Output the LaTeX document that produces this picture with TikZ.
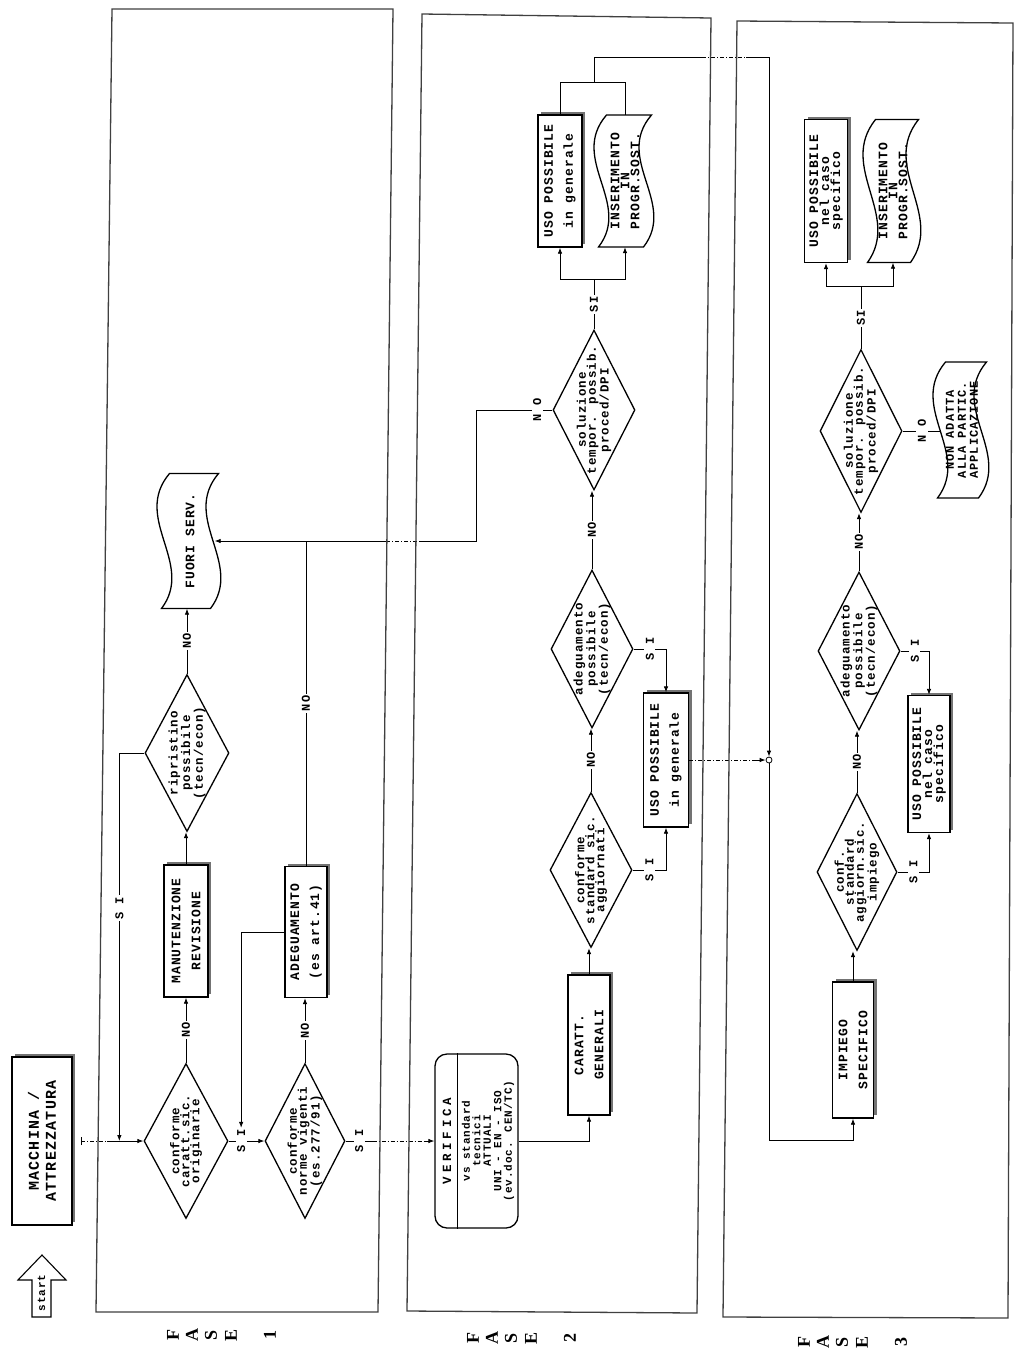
\documentclass[tikz,border=0pt]{standalone}
\usepackage{fontspec}
\newfontfamily\mono{Liberation Mono}[LetterSpace=8]
\newfontfamily\fasefont{Liberation Serif}
\usetikzlibrary{shapes.geometric,arrows.meta,shadows,calc}

\tikzset{
  conn/.style={line width=0.8pt},
  arr/.style={conn,-{Latex[length=6pt,width=4.5pt]}},
  gapd/.style={line width=0.8pt,dash pattern=on 4pt off 2pt on 1pt off 2pt},
  shp/.style={draw,line width=1.3pt,fill=white,inner sep=0pt},
  pbx/.style={shp,rectangle,general shadow={shadow xshift=3pt,shadow yshift=3pt,fill=black!55}},
  dia/.style={shp,diamond},
  btxt/.style={rotate=90,align=center,inner sep=0pt,font=\mono\bfseries\fontsize{13}{20}\selectfont},
  dtxt/.style={rotate=90,align=center,inner sep=0pt,font=\mono\bfseries\fontsize{12.5}{10}\selectfont},
  lbl/.style={rotate=90,fill=white,inner sep=1.5pt,font=\mono\bfseries\fontsize{12}{12}\selectfont},
  frm/.style={line width=1.3pt,draw=black!75},
  fase/.style={inner sep=0pt,font=\fasefont\bfseries\fontsize{18}{18}\selectfont},
}

% procedure box with shadow: name, cx, cy, w, h, text
\newcommand\procbox[6]{%
  \node[pbx,minimum width=#4,minimum height=#5] (#1) at (#2,#3) {};
  \node[btxt] (#1t) at (#1) {#6};}
% punched tape: name, cx, cy, total w, h, text
\newcommand\tapenode[6]{%
  \pgfmathsetmacro\tpa{(#4-13)/2}%
  \pgfmathsetmacro\tpT{#3-#5/2}\pgfmathsetmacro\tpB{#3+#5/2}%
  \pgfmathsetmacro\tpL{#2-\tpa-4}\pgfmathsetmacro\tpR{#2+\tpa-4}%
  \pgfmathsetmacro\tpA{\tpT+#5/3}\pgfmathsetmacro\tpC{\tpT+2*#5/3}%
  \draw[line width=1.3pt,fill=white] (\tpL+8,\tpT) -- (\tpR+8,\tpT)
     .. controls (\tpR-30,\tpA) and (\tpR+34,\tpC) .. (\tpR,\tpB) -- (\tpL,\tpB)
     .. controls (\tpL+34,\tpC) and (\tpL-30,\tpA) .. (\tpL+8,\tpT) -- cycle;
  \node[minimum width=2*\tpa,minimum height=#5,inner sep=0pt] (#1) at (#2,#3) {};
  \node[btxt] (#1t) at (#1) {#6};}
% rotated FASE letter: name, x, y, letter
\newcommand\faseletter[4]{\node[fase] (#1) at (#2,#3) {\rotatebox{90}{#4}};}

\begin{document}
\begin{tikzpicture}[x=1pt,y=-1pt]
\fill[white] (0,0) rectangle (1017,1350);
\useasboundingbox (0,0) rectangle (1017,1350);

% ---------- start arrow ----------
\draw[line width=1.1pt] (32,1317) -- (32,1280) -- (18,1280) -- (42,1255) -- (66,1280) -- (51,1280) -- (51,1317) -- cycle;
\node[rotate=90,inner sep=0pt,font=\mono\bfseries\fontsize{11}{11}\selectfont] (startt) at (41.5,1293) {start};

% ---------- FASE 1 ----------
\procbox{mac}{42}{1141}{60}{168}{}
\node[btxt,font=\mono\bfseries\fontsize{15}{17}\selectfont] (mact) at (mac) {MACCHINA /\\ATTREZZATURA};
\node[dia,minimum width=84,minimum height=155] (d1) at (186,1141) {};
\node[dtxt] (d1t) at (d1) {conforme\\caratt.sic.\\originarie};
\node[dia,minimum width=80,minimum height=155] (d2) at (305,1141) {};
\node[dtxt] (d2t) at (d2) {conforme\\norme vigenti\\(es.277/91)};
\procbox{man}{186}{931}{44}{132}{MANUTENZIONE\\REVISIONE}
\procbox{adg}{306}{932}{42}{131}{ADEGUAMENTO\\(es art.41)}
\node[dia,minimum width=84,minimum height=157] (d3) at (187,753) {};
\node[dtxt] (d3t) at (d3) {ripristino\\possibile\\(tecn/econ)};
\tapenode{fuori}{190}{541}{62}{135}{FUORI SERV.}

% ---------- FASE 2 ----------
\node[shp,rounded corners=12pt,minimum width=83,minimum height=174] (ver) at (476.5,1141) {};
\draw[line width=1.3pt] ([xshift=23pt]ver.north west) -- ([xshift=23pt]ver.south west);
\node[rotate=90,inner sep=0pt,font=\mono\bfseries\fontsize{12.5}{12}\selectfont\addfontfeature{LetterSpace=30}] (verh) at (447,1141) {VERIFICA};
\node[rotate=90,align=center,inner sep=0pt,font=\mono\bfseries\fontsize{11}{10.5}\selectfont] (verb) at (488,1141) {vs standard\\tecnici\\ATTUALI\\UNI - EN - ISO\\(ev.doc. CEN/TC)};
\procbox{car}{589}{1045}{42}{140}{CARATT.\\GENERALI}
\node[dia,minimum width=82,minimum height=155] (d4) at (591,870) {};
\node[dtxt] (d4t) at (d4) {conforme\\standard sic.\\aggiornati};
\procbox{uso1}{666}{760}{45}{134}{USO POSSIBILE\\in generale}
\node[dia,minimum width=82,minimum height=158] (d5) at (592,649) {};
\node[dtxt] (d5t) at (d5) {adeguamento\\possibile\\(tecn/econ)};
\node[dia,minimum width=82,minimum height=160] (d6) at (594,410) {};
\node[dtxt] (d6t) at (d6) {soluzione\\tempor. possib.\\proced/DPI};
\procbox{uso2}{560}{181}{44}{132}{USO POSSIBILE\\in generale}
\tapenode{ins1}{625}{181}{58}{132}{}
\node[btxt,font=\mono\bfseries\fontsize{13}{10}\selectfont] (ins1x) at (ins1) {INSERIMENTO\\IN\\PROGR.SOST.};

% ---------- FASE 3 ----------
\node[circle,draw,line width=0.8pt,fill=white,minimum size=6pt,inner sep=0pt] (jc) at (769,760) {};
\procbox{imp}{853}{1050}{41}{136}{IMPIEGO\\SPECIFICO}
\node[dia,minimum width=80,minimum height=157] (d7) at (857,872) {};
\node[dtxt] (d7t) at (d7) {conf.\\standard\\aggiorn.sic.\\impiego};
\procbox{uso3}{929}{764}{42}{137}{}
\node[btxt,font=\mono\bfseries\fontsize{13}{11}\selectfont] (uso3x) at (uso3) {USO POSSIBILE\\nel caso\\specifico};
\node[dia,minimum width=82,minimum height=158] (d8) at (859,651) {};
\node[dtxt] (d8t) at (d8) {adeguamento\\possibile\\(tecn/econ)};
\node[dia,minimum width=82,minimum height=163] (d9) at (861,431) {};
\node[dtxt] (d9t) at (d9) {soluzione\\tempor. possib.\\proced/DPI};
\tapenode{nonad}{962}{430}{54}{136}{}
\node[btxt,font=\mono\bfseries\fontsize{12}{12}\selectfont] (nonadx) at (nonad) {NON ADATTA\\ALLA PARTIC.\\APPLICAZIONE};
\procbox{uso4}{826}{191}{43}{143}{}
\node[btxt,font=\mono\bfseries\fontsize{13}{11}\selectfont] (uso4x) at (uso4) {USO POSSIBILE\\nel caso\\specifico};
\tapenode{ins2}{893}{191}{56}{143}{}
\node[btxt,font=\mono\bfseries\fontsize{13}{10}\selectfont] (ins2x) at (ins2) {INSERIMENTO\\IN\\PROGR.SOST.};

% ---------- connectors FASE 1 ----------
\coordinate (macout) at ([xshift=8pt]mac.east);
\coordinate (macg) at ([xshift=-36pt]d1.west);
\draw[gapd,{Bar[width=8pt]}-] (macout) -- (macg);
\draw[arr] (macg) -- (d1.west);
\draw[arr] (d1.east) -- node[lbl,pos=0.35] (si1) {S I} (d2.west);
\draw[arr] (adg.west) -| (si1.east);
\draw[arr] (d1.north) -- node[lbl] {NO} (d1.north |- man.south);
\draw[arr] (d2.north) -- node[lbl] {NO} (d2.north |- adg.south);
\draw[arr] (man.north) -- (man.north |- d3.south);
\draw[arr] (d3.north) -- node[lbl] {NO} (d3.north |- fuori.south);
\coordinate (j1) at ([xshift=-24pt]d1.west);
\draw[arr] (d3.west) -| node[lbl,pos=0.7] {S I} (j1);
\draw[conn] (adg.north) -- node[lbl] {NO} (adg.north |- fuori.east);
\draw[arr] (d6.west) -- node[lbl,pos=0.2] {N O} ++(-76,0) |- (fuori.east);
\draw[white,line width=2pt] (386,541) -- (420,541);
\draw[gapd] (386,541) -- (420,541);

% ---------- connectors FASE 2 ----------
\coordinate (g2) at ([xshift=27pt]d2.east);
\coordinate (g2b) at ([xshift=-9pt]ver.west);
\draw[conn] (d2.east) -- node[lbl] {S I} (g2);
\draw[gapd] (g2) -- (g2b);
\draw[arr] (g2b) -- (ver.west);
\draw[arr] (ver.east) -| (car.south);
\draw[arr] (car.north) -- (car.north |- d4.south);
\draw[arr] (d4.east) -| node[lbl,pos=0.25] {S I} (uso1.south);
\draw[arr] (d5.east) -| node[lbl,pos=0.25] {S I} (uso1.north);
\draw[arr] (d4.north) -- node[lbl] {NO} (d4.north |- d5.south);
\draw[arr] (d5.north) -- node[lbl] {NO} (d5.north |- d6.south);
\coordinate (s6) at ([yshift=50pt]d6.north);
\draw[conn] (d6.north) -- node[lbl] {SI} (s6);
\draw[arr] (s6) -| (uso2.south);
\draw[arr] (s6) -| (ins1.south);
\coordinate (t6) at ([yshift=32pt]uso2.north);
\draw[conn] (uso2.north) -- (t6) -| (ins1.north);
\coordinate (top3) at (769,57);
\draw[arr] (s6 |- t6) |- (top3) -- (jc.north);
\draw[white,line width=2pt] (702,57) -- (746,57);
\draw[gapd] (702,57) -- (746,57);
\coordinate (ug) at ([xshift=-12pt]jc.west);
\draw[gapd] (uso1.east) -- (ug);
\draw[arr] (ug) -- (jc.west);

% ---------- connectors FASE 3 ----------
\draw[arr] (jc.south) |- ([yshift=-22pt]imp.south) -- (imp.south);
\draw[arr] (imp.north) -- (imp.north |- d7.south);
\draw[arr] (d7.east) -| node[lbl,pos=0.25] {S I} (uso3.south);
\draw[arr] (d8.east) -| node[lbl,pos=0.25] {S I} (uso3.north);
\draw[arr] (d7.north) -- node[lbl] {NO} (d7.north |- d8.south);
\draw[arr] (d8.north) -- node[lbl] {NO} (d8.north |- d9.south);
\draw[conn] (d9.east) -- node[lbl] {N O} (d9.east -| nonad.west);
\coordinate (s9) at ([yshift=62pt]d9.north);
\draw[conn] (d9.north) -- node[lbl] {SI} (s9);
\draw[arr] (s9) -| (uso4.south);
\draw[arr] (s9) -| (ins2.south);

% ---------- frames ----------
\draw[frm] (112,9) -- (393,9) -- (378,1312) -- (96,1312) -- cycle;
\draw[frm] (422,14) -- (711,18) -- (697,1313) -- (407,1311) -- cycle;
\draw[frm] (737,21) -- (1013,23) -- (1008,1318) -- (723,1317) -- cycle;

% ---------- FASE labels ----------
\faseletter{fa1}{173}{1335}{F}
\faseletter{fa2}{192}{1335}{A}
\faseletter{fa3}{211}{1335}{S}
\faseletter{fa4}{231}{1335}{E}
\faseletter{fa5}{270}{1335}{1}
\faseletter{fb1}{473}{1338}{F}
\faseletter{fb2}{492}{1338}{A}
\faseletter{fb3}{511}{1338}{S}
\faseletter{fb4}{531}{1338}{E}
\faseletter{fb5}{570}{1338}{2}
\faseletter{fc1}{804}{1342}{F}
\faseletter{fc2}{823}{1342}{A}
\faseletter{fc3}{842}{1342}{S}
\faseletter{fc4}{862}{1342}{E}
\faseletter{fc5}{901}{1342}{3}
\end{tikzpicture}
\end{document}
